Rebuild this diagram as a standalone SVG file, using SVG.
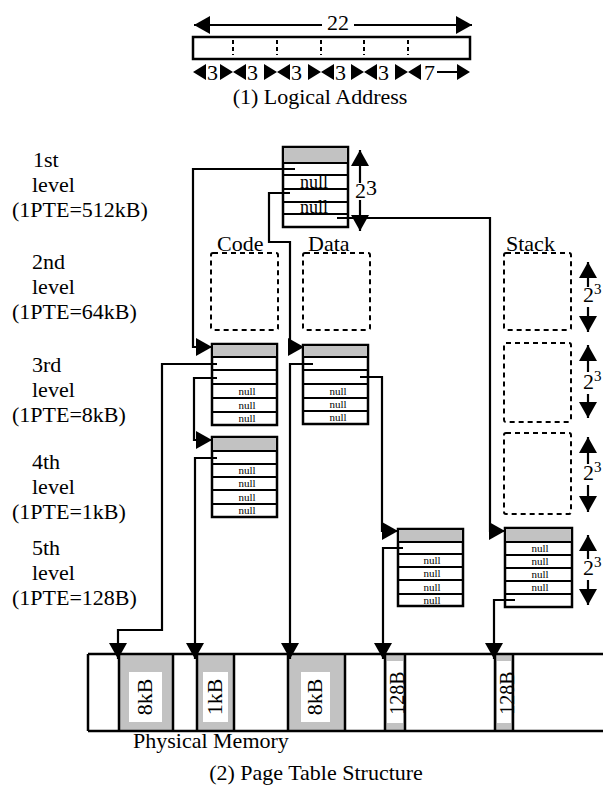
<svg xmlns="http://www.w3.org/2000/svg" width="603" height="788" viewBox="0 0 603 788">
<defs>
<style>
text{font-family:"Liberation Serif","Times New Roman",serif;fill:#000}
.t{font-size:22px}
.nl{font-size:18px;text-anchor:middle}
.ns{font-size:11px;text-anchor:middle}
.tb{fill:#fff;stroke:#000;stroke-width:2.5}
.hd{fill:#c2c2c2;stroke:#000;stroke-width:2}
.rl{stroke:#000;stroke-width:2}
.cn{fill:none;stroke:#000;stroke-width:2.2}
.dsh{fill:none;stroke:#000;stroke-width:2;stroke-dasharray:5 4}
.gr{fill:#c2c2c2}
.wh{fill:#fff}
.ml{stroke:#000;stroke-width:2.5}
</style>
<marker id="ah" viewBox="0 0 16 18" refX="16" refY="9" markerWidth="16" markerHeight="18" markerUnits="userSpaceOnUse" orient="auto-start-reverse"><path d="M0,0 L16,9 L0,18 Z" fill="#000"/></marker>
</defs>
<rect width="603" height="788" fill="#fff"/>

<g id="logical-address">
<rect x="193" y="37" width="277" height="22" fill="none" stroke="#000" stroke-width="2.5"/>
<g stroke="#000" stroke-width="2" stroke-dasharray="4 3">
<line x1="233" y1="40" x2="233" y2="55"/><line x1="277" y1="40" x2="277" y2="55"/><line x1="321" y1="40" x2="321" y2="55"/><line x1="364" y1="40" x2="364" y2="55"/><line x1="408" y1="40" x2="408" y2="55"/>
</g>
<path class="cn" d="M322,25 H194" marker-end="url(#ah)"/>
<path class="cn" d="M354,25 H472" marker-end="url(#ah)"/>
<text class="t" x="338" y="30" text-anchor="middle">22</text>
<g fill="#000">
<polygon points="193,72 206,64 206,80"/><polygon points="233,72 220,64 220,80"/>
<polygon points="233,72 246,64 246,80"/><polygon points="277,72 264,64 264,80"/>
<polygon points="277,72 290,64 290,80"/><polygon points="321,72 308,64 308,80"/>
<polygon points="321,72 334,64 334,80"/><polygon points="364,72 351,64 351,80"/>
<polygon points="364,72 377,64 377,80"/><polygon points="408,72 395,64 395,80"/>
<polygon points="408,72 421,64 421,80"/><polygon points="470,72 457,64 457,80"/>
</g>
<line x1="437" y1="72" x2="458" y2="72" stroke="#000" stroke-width="2"/>
<text class="t" x="207" y="80">3</text>
<text class="t" x="247" y="80">3</text>
<text class="t" x="291" y="80">3</text>
<text class="t" x="335" y="80">3</text>
<text class="t" x="378" y="80">3</text>
<text class="t" x="424" y="80">7</text>
<text class="t" x="320" y="104" text-anchor="middle">(1) Logical Address</text>
</g>

<g id="level-labels">
<text class="t" x="33" y="167">1st</text><text class="t" x="32" y="192">level</text><text class="t" x="12" y="217">(1PTE=512kB)</text>
<text class="t" x="32" y="269">2nd</text><text class="t" x="32" y="294">level</text><text class="t" x="12" y="319">(1PTE=64kB)</text>
<text class="t" x="32" y="372">3rd</text><text class="t" x="32" y="397">level</text><text class="t" x="12" y="422">(1PTE=8kB)</text>
<text class="t" x="32" y="469">4th</text><text class="t" x="32" y="494">level</text><text class="t" x="12" y="519">(1PTE=1kB)</text>
<text class="t" x="32" y="555">5th</text><text class="t" x="32" y="580">level</text><text class="t" x="12" y="605">(1PTE=128B)</text>
</g>

<text class="t" x="217" y="251">Code</text>
<text class="t" x="308" y="251">Data</text>
<text class="t" x="506" y="251">Stack</text>

<g id="l1-table">
<rect class="tb" x="283" y="147" width="65" height="80"/>
<rect class="hd" x="283" y="147" width="65" height="16"/>
<line class="rl" x1="283" y1="175" x2="348" y2="175"/>
<line class="rl" x1="283" y1="189" x2="348" y2="189"/>
<line class="rl" x1="283" y1="202" x2="348" y2="202"/>
<line class="rl" x1="283" y1="214" x2="348" y2="214"/>
<text class="nl" x="314" y="188">null</text>
<text class="nl" x="314" y="213">null</text>
<path class="cn" d="M360,183 V150" marker-end="url(#ah)"/>
<path class="cn" d="M360,200 V231" marker-end="url(#ah)"/>
<text class="t" x="355" y="198">2<tspan dy="-3">3</tspan></text>
</g>

<g id="l2-code"><rect class="dsh" x="211" y="253" width="67" height="77" rx="2"/></g>
<g id="l2-data"><rect class="dsh" x="303" y="253" width="67" height="77" rx="2"/></g>
<g id="l2-stack"><rect class="dsh" x="504" y="253" width="67" height="77" rx="2"/></g>
<g id="l3-stack"><rect class="dsh" x="504" y="343" width="67" height="79" rx="2"/></g>
<g id="l4-stack"><rect class="dsh" x="504" y="433" width="67" height="81" rx="2"/></g>

<g id="l3-code">
<rect class="tb" x="212" y="344" width="65" height="81"/>
<rect class="hd" x="212" y="344" width="65" height="13"/>
<line class="rl" x1="212" y1="370" x2="277" y2="370"/>
<line class="rl" x1="212" y1="384" x2="277" y2="384"/>
<line class="rl" x1="212" y1="398" x2="277" y2="398"/>
<line class="rl" x1="212" y1="412" x2="277" y2="412"/>
<text class="ns" x="247" y="394.5">null</text>
<text class="ns" x="247" y="408.5">null</text>
<text class="ns" x="247" y="422.3">null</text>
</g>

<g id="l3-data">
<rect class="tb" x="303" y="345" width="65" height="79"/>
<rect class="hd" x="303" y="345" width="65" height="12"/>
<line class="rl" x1="303" y1="370" x2="368" y2="370"/>
<line class="rl" x1="303" y1="384" x2="368" y2="384"/>
<line class="rl" x1="303" y1="398" x2="368" y2="398"/>
<line class="rl" x1="303" y1="411" x2="368" y2="411"/>
<text class="ns" x="338" y="394.5">null</text>
<text class="ns" x="338" y="408.3">null</text>
<text class="ns" x="338" y="421.3">null</text>
</g>

<g id="l4-code">
<rect class="tb" x="212" y="437" width="65" height="80"/>
<rect class="hd" x="212" y="437" width="65" height="14"/>
<line class="rl" x1="212" y1="464" x2="277" y2="464"/>
<line class="rl" x1="212" y1="477" x2="277" y2="477"/>
<line class="rl" x1="212" y1="490" x2="277" y2="490"/>
<line class="rl" x1="212" y1="504" x2="277" y2="504"/>
<text class="ns" x="247" y="474.3">null</text>
<text class="ns" x="247" y="487.3">null</text>
<text class="ns" x="247" y="500.5">null</text>
<text class="ns" x="247" y="514.3">null</text>
</g>

<g id="l5-data">
<rect class="tb" x="398" y="529" width="65" height="77"/>
<rect class="hd" x="398" y="529" width="65" height="13"/>
<line class="rl" x1="398" y1="554" x2="463" y2="554"/>
<line class="rl" x1="398" y1="567" x2="463" y2="567"/>
<line class="rl" x1="398" y1="580" x2="463" y2="580"/>
<line class="rl" x1="398" y1="594" x2="463" y2="594"/>
<text class="ns" x="432" y="564.3">null</text>
<text class="ns" x="432" y="577.3">null</text>
<text class="ns" x="432" y="590.5">null</text>
<text class="ns" x="432" y="604">null</text>
</g>

<g id="l5-stack">
<rect class="tb" x="505" y="528" width="67" height="79"/>
<rect class="hd" x="505" y="528" width="67" height="14"/>
<line class="rl" x1="505" y1="555" x2="572" y2="555"/>
<line class="rl" x1="505" y1="568" x2="572" y2="568"/>
<line class="rl" x1="505" y1="581" x2="572" y2="581"/>
<line class="rl" x1="505" y1="594" x2="572" y2="594"/>
<text class="ns" x="540" y="552.3">null</text>
<text class="ns" x="540" y="565.3">null</text>
<text class="ns" x="540" y="578.3">null</text>
<text class="ns" x="540" y="591.3">null</text>
</g>

<g id="stack-arrows">
<path class="cn" d="M588,287 V262" marker-end="url(#ah)"/>
<path class="cn" d="M588,307 V332" marker-end="url(#ah)"/>
<text class="t" x="583" y="302">2<tspan dy="-8" font-size="15">3</tspan></text>
<path class="cn" d="M588,372 V345" marker-end="url(#ah)"/>
<path class="cn" d="M588,394 V418" marker-end="url(#ah)"/>
<text class="t" x="583" y="389">2<tspan dy="-8" font-size="15">3</tspan></text>
<path class="cn" d="M588,464 V437" marker-end="url(#ah)"/>
<path class="cn" d="M588,485 V512" marker-end="url(#ah)"/>
<text class="t" x="583" y="480">2<tspan dy="-8" font-size="15">3</tspan></text>
<path class="cn" d="M588,559 V535" marker-end="url(#ah)"/>
<path class="cn" d="M588,580 V605" marker-end="url(#ah)"/>
<text class="t" x="583" y="575">2<tspan dy="-8" font-size="15">3</tspan></text>
</g>

<g id="physical-memory">
<rect class="gr" x="119" y="654" width="54" height="77"/>
<rect class="wh" x="129" y="672" width="33" height="50"/>
<rect class="gr" x="197" y="654" width="37" height="77"/>
<rect class="wh" x="203" y="672" width="25" height="50"/>
<rect class="gr" x="288" y="654" width="57" height="77"/>
<rect class="wh" x="301" y="672" width="29" height="50"/>
<rect class="gr" x="385" y="654" width="20" height="77"/>
<rect class="wh" x="387" y="661" width="16" height="62"/>
<rect class="gr" x="495" y="654" width="18" height="77"/>
<rect class="wh" x="497" y="661" width="14" height="62"/>
<line class="ml" x1="88" y1="654" x2="603" y2="654"/>
<line class="ml" x1="88" y1="731" x2="603" y2="731"/>
<line class="ml" x1="88" y1="654" x2="88" y2="731"/>
<line class="ml" x1="119" y1="654" x2="119" y2="731"/>
<line class="ml" x1="173" y1="654" x2="173" y2="731"/>
<line class="ml" x1="197" y1="654" x2="197" y2="731"/>
<line class="ml" x1="234" y1="654" x2="234" y2="731"/>
<line class="ml" x1="288" y1="654" x2="288" y2="731"/>
<line class="ml" x1="345" y1="654" x2="345" y2="731"/>
<line class="ml" x1="385" y1="654" x2="385" y2="731"/>
<line class="ml" x1="405" y1="654" x2="405" y2="731"/>
<line class="ml" x1="495" y1="654" x2="495" y2="731"/>
<line class="ml" x1="513" y1="654" x2="513" y2="731"/>
<text class="t" text-anchor="middle" transform="translate(152,697) rotate(-90)">8kB</text>
<text class="t" text-anchor="middle" transform="translate(222,697) rotate(-90)">1kB</text>
<text class="t" text-anchor="middle" transform="translate(322,697) rotate(-90)">8kB</text>
<text text-anchor="middle" style="font-size:20px" transform="translate(404,693) rotate(-90)">128B</text>
<text text-anchor="middle" style="font-size:20px" transform="translate(514,693) rotate(-90)">128B</text>
<text class="t" x="133" y="748">Physical Memory</text>
</g>

<g id="connectors">
<path class="cn" d="M295,169 H193 V347 H212" marker-end="url(#ah)"/>
<path class="cn" d="M290,193 H269 V242 H290 V347 H304" marker-end="url(#ah)"/>
<path class="cn" d="M337,218 H490 V531 H505" marker-end="url(#ah)"/>
<path class="cn" d="M217,364 H162 V630 H118 V659" marker-end="url(#ah)"/>
<path class="cn" d="M217,378 H194 V440 H212" marker-end="url(#ah)"/>
<path class="cn" d="M217,458 H195 V659" marker-end="url(#ah)"/>
<path class="cn" d="M313,364 H290 V659" marker-end="url(#ah)"/>
<path class="cn" d="M360,377 H382 V531 H398" marker-end="url(#ah)"/>
<path class="cn" d="M403,548 H383 V659" marker-end="url(#ah)"/>
<path class="cn" d="M515,600 H494 V659" marker-end="url(#ah)"/>
</g>

<text class="t" x="316" y="780" text-anchor="middle">(2) Page Table Structure</text>
</svg>
